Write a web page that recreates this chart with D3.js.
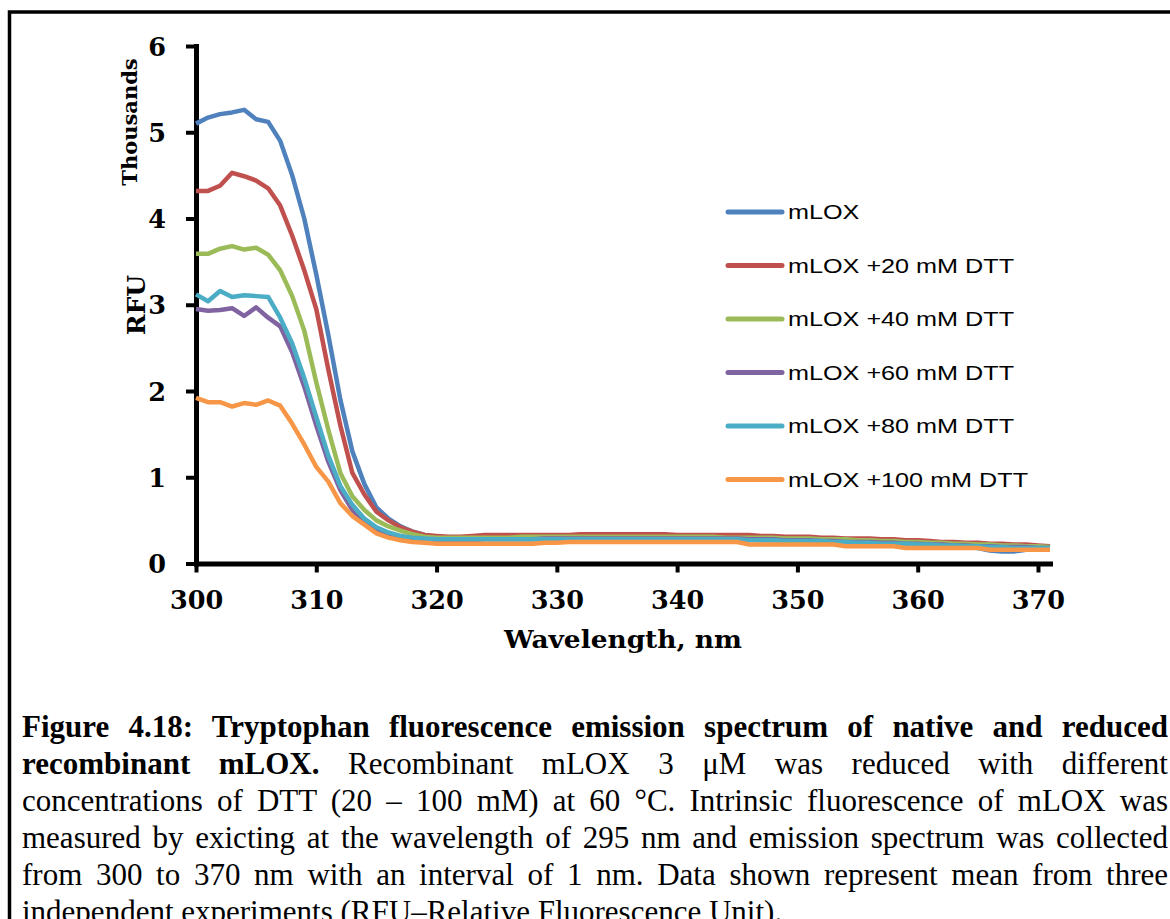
<!DOCTYPE html>
<html>
<head>
<meta charset="utf-8">
<script src="https://cdnjs.cloudflare.com/ajax/libs/d3/7.8.5/d3.min.js"></script>
<style>
body { margin: 0; background: #fff; }
</style>
</head>
<body>
<div id="my_chart"></div>
<script>
// wavelength categories (nm), one reading per nm
var wavelengths = d3.range(300, 372);

var seriesNames = ["mLOX", "mLOX +20 mM DTT", "mLOX +40 mM DTT", "mLOX +60 mM DTT", "mLOX +80 mM DTT", "mLOX +100 mM DTT"];
var seriesColors = ["#4F81BD", "#C0504D", "#9BBB59", "#8064A2", "#4BACC6", "#F79646"];

// RFU values in thousands, 300 -> 371 nm
var mlox = [5.10, 5.17, 5.21, 5.23, 5.26, 5.15, 5.12, 4.90, 4.50, 4.00, 3.35, 2.65, 1.90, 1.30, 0.92, 0.65, 0.52, 0.43, 0.37, 0.33, 0.31,
  0.30, 0.29, 0.29, 0.29, 0.29, 0.29, 0.29, 0.30, 0.30, 0.30,
  0.30, 0.30, 0.30, 0.30, 0.30, 0.30, 0.30, 0.30, 0.30, 0.29,
  0.29, 0.29, 0.29, 0.29, 0.28, 0.28, 0.27, 0.27, 0.27, 0.27,
  0.26, 0.26, 0.25, 0.25, 0.24, 0.24, 0.23, 0.23, 0.22, 0.21,
  0.21, 0.20, 0.20, 0.19, 0.18, 0.15, 0.14, 0.14, 0.16, 0.17,
  0.17];
var dtt20 = [4.32, 4.32, 4.38, 4.53, 4.49, 4.44, 4.35, 4.15, 3.80, 3.40, 2.95, 2.25, 1.60, 1.05, 0.80, 0.60, 0.50, 0.42, 0.37, 0.33, 0.32,
  0.31, 0.31, 0.32, 0.33, 0.33, 0.33, 0.33, 0.33, 0.33, 0.33,
  0.33, 0.34, 0.34, 0.34, 0.34, 0.34, 0.34, 0.34, 0.34, 0.33,
  0.33, 0.33, 0.33, 0.33, 0.33, 0.33, 0.32, 0.32, 0.31, 0.31,
  0.31, 0.30, 0.30, 0.29, 0.29, 0.29, 0.28, 0.28, 0.27, 0.27,
  0.26, 0.25, 0.25, 0.24, 0.24, 0.23, 0.23, 0.22, 0.22, 0.21,
  0.20];
var dtt40 = [3.59, 3.59, 3.65, 3.68, 3.64, 3.66, 3.58, 3.40, 3.10, 2.70, 2.10, 1.55, 1.05, 0.78, 0.62, 0.50, 0.43, 0.38, 0.34, 0.31, 0.30,
  0.30, 0.30, 0.30, 0.30, 0.30, 0.30, 0.31, 0.31, 0.31, 0.31,
  0.31, 0.31, 0.31, 0.31, 0.31, 0.31, 0.31, 0.31, 0.31, 0.31,
  0.31, 0.31, 0.31, 0.30, 0.30, 0.30, 0.30, 0.30, 0.29, 0.29,
  0.29, 0.28, 0.28, 0.28, 0.27, 0.27, 0.26, 0.26, 0.25, 0.25,
  0.24, 0.24, 0.23, 0.23, 0.22, 0.22, 0.21, 0.21, 0.20, 0.20,
  0.19];
var dtt60 = [2.95, 2.93, 2.94, 2.96, 2.87, 2.97, 2.85, 2.75, 2.45, 2.05, 1.60, 1.18, 0.85, 0.62, 0.48, 0.40, 0.34, 0.31, 0.29, 0.28, 0.27,
  0.27, 0.27, 0.27, 0.28, 0.28, 0.28, 0.28, 0.28, 0.29, 0.29,
  0.29, 0.29, 0.29, 0.29, 0.29, 0.29, 0.29, 0.29, 0.29, 0.29,
  0.29, 0.29, 0.29, 0.29, 0.29, 0.28, 0.28, 0.28, 0.27, 0.27,
  0.27, 0.26, 0.26, 0.25, 0.25, 0.25, 0.24, 0.24, 0.23, 0.23,
  0.22, 0.22, 0.21, 0.21, 0.20, 0.20, 0.19, 0.19, 0.19, 0.18,
  0.18];
var dtt80 = [3.12, 3.04, 3.16, 3.09, 3.11, 3.10, 3.09, 2.85, 2.55, 2.15, 1.70, 1.25, 0.90, 0.68, 0.52, 0.42, 0.36, 0.32, 0.30, 0.29, 0.28,
  0.28, 0.28, 0.28, 0.28, 0.28, 0.28, 0.28, 0.28, 0.28, 0.28,
  0.28, 0.28, 0.28, 0.28, 0.28, 0.28, 0.28, 0.28, 0.28, 0.28,
  0.28, 0.28, 0.28, 0.28, 0.28, 0.27, 0.27, 0.27, 0.26, 0.26,
  0.26, 0.26, 0.25, 0.25, 0.24, 0.24, 0.23, 0.23, 0.23, 0.22,
  0.22, 0.21, 0.21, 0.20, 0.20, 0.19, 0.19, 0.18, 0.18, 0.18,
  0.18];
var dtt100 = [1.92, 1.87, 1.87, 1.82, 1.86, 1.84, 1.89, 1.83, 1.62, 1.38, 1.12, 0.95, 0.70, 0.55, 0.45, 0.35, 0.30, 0.27, 0.25, 0.24, 0.23,
  0.23, 0.23, 0.23, 0.23, 0.23, 0.23, 0.23, 0.23, 0.24, 0.24,
  0.25, 0.25, 0.25, 0.25, 0.25, 0.25, 0.25, 0.25, 0.25, 0.25,
  0.25, 0.25, 0.25, 0.25, 0.25, 0.22, 0.22, 0.22, 0.22, 0.22,
  0.22, 0.22, 0.22, 0.20, 0.20, 0.20, 0.20, 0.20, 0.18, 0.18,
  0.18, 0.18, 0.18, 0.18, 0.18, 0.16, 0.16, 0.16, 0.16, 0.16,
  0.16];

var xTicks = [300, 310, 320, 330, 340, 350, 360, 370];
var yTicks = [0, 1, 2, 3, 4, 5, 6];

var captionLines = [
  [{t: "Figure 4.18: Tryptophan fluorescence emission spectrum of native and reduced", b: true}],
  [{t: "recombinant mLOX.", b: true}, {t: " Recombinant mLOX 3 \u03bcM was reduced with different", b: false}],
  [{t: "concentrations of DTT (20 \u2013 100 mM) at 60 \u00b0C. Intrinsic fluorescence of mLOX was", b: false}],
  [{t: "measured by exicting at the wavelength of 295 nm and emission spectrum was collected", b: false}],
  [{t: "from 300 to 370 nm with an interval of 1 nm. Data shown represent mean from three", b: false}],
  [{t: "independent experiments (RFU\u2013Relative Fluorescence Unit).", b: false}]
];

var allValues = [mlox, dtt20, dtt40, dtt60, dtt80, dtt100];
var dataReady = seriesNames.map(function(name, i) {
  return {
    name: name,
    color: seriesColors[i],
    values: wavelengths.map(function(w, j) { return {w: w, v: allValues[i][j]}; })
  };
});

var width = 1170, height = 919;
var svg = d3.select("#my_chart")
  .append("svg")
  .attr("width", width)
  .attr("height", height)
  .style("display", "block");

// page frame (runs off the right and bottom edges)
svg.append("rect")
  .attr("x", 9.5).attr("y", 12)
  .attr("width", 1180).attr("height", 940)
  .attr("fill", "#fff")
  .attr("stroke", "#000")
  .attr("stroke-width", 3.5);

var x = d3.scaleLinear().domain([300, 371]).range([196, 1050]);
var y = d3.scaleLinear().domain([0, 6]).range([563.5, 46]);

var tickFont = "'DejaVu Serif', serif";

// y axis
var gy = svg.append("g")
  .attr("transform", "translate(196,0)")
  .call(d3.axisLeft(y).tickValues(yTicks).tickSize(10).tickSizeOuter(0).tickFormat(d3.format("d")));
gy.select(".domain").attr("stroke-width", 5).attr("stroke-linecap", "square");
gy.selectAll(".tick line").attr("stroke-width", 4);
gy.selectAll(".tick text")
  .attr("x", -30)
  .attr("dy", "0.36em")
  .style("font-family", tickFont)
  .style("font-weight", "bold")
  .style("font-size", "25.5px")
  .attr("fill", "#000");

// x axis
var gx = svg.append("g")
  .attr("transform", "translate(0," + y(0) + ")")
  .call(d3.axisBottom(x).tickValues(xTicks).tickSize(9).tickSizeOuter(0));
gx.select(".domain").attr("stroke-width", 5).attr("stroke-linecap", "square");
gx.selectAll(".tick line").attr("stroke-width", 4);
gx.selectAll(".tick text")
  .attr("y", 45.5)
  .attr("dy", 0)
  .style("font-family", tickFont)
  .style("font-weight", "bold")
  .style("font-size", "25.5px")
  .attr("fill", "#000");

// axis titles
svg.append("text")
  .attr("transform", "translate(137,122) rotate(-90)")
  .attr("text-anchor", "middle")
  .style("font-family", tickFont)
  .style("font-weight", "bold")
  .style("font-size", "21px")
  .text("Thousands");
svg.append("text")
  .attr("transform", "translate(145,305) rotate(-90)")
  .attr("text-anchor", "middle")
  .style("font-family", tickFont)
  .style("font-weight", "bold")
  .style("font-size", "25px")
  .text("RFU");
svg.append("text")
  .attr("transform", "translate(623,648) scale(1.1,1)")
  .attr("text-anchor", "middle")
  .style("font-family", tickFont)
  .style("font-weight", "bold")
  .style("font-size", "24px")
  .text("Wavelength, nm");

// the lines
var line = d3.line()
  .x(function(d) { return x(d.w); })
  .y(function(d) { return y(d.v); });
svg.selectAll("myLines")
  .data(dataReady)
  .enter()
  .append("path")
    .attr("d", function(d) { return line(d.values); })
    .attr("stroke", function(d) { return d.color; })
    .attr("stroke-width", 4.5)
    .attr("stroke-linejoin", "round")
    .attr("fill", "none");

// legend
var legend = svg.selectAll("myLegend")
  .data(dataReady)
  .enter()
  .append("g")
  .attr("transform", function(d, i) { return "translate(728," + (212 + i * 53.5) + ")"; });
legend.append("line")
  .attr("x1", 0).attr("x2", 54)
  .attr("stroke", function(d) { return d.color; })
  .attr("stroke-width", 5)
  .attr("stroke-linecap", "round");
legend.append("text")
  .attr("transform", "translate(60,0) scale(1.2,1)")
  .attr("dy", "0.35em")
  .style("font-family", "'Liberation Sans', Arial, sans-serif")
  .style("font-size", "21px")
  .attr("fill", "#000")
  .text(function(d) { return d.name; });

// caption, justified line by line
var captionLeft = 22, captionRight = 1168;
captionLines.forEach(function(parts, i) {
  var t = svg.append("text")
    .attr("x", captionLeft)
    .attr("y", 737 + i * 37)
    .style("font-family", "'Liberation Serif', 'Times New Roman', serif")
    .style("font-size", "31px")
    .attr("fill", "#000")
    .attr("xml:space", "preserve");
  parts.forEach(function(p) {
    t.append("tspan").style("font-weight", p.b ? "bold" : "normal").text(p.t);
  });
  if (i < captionLines.length - 1) {
    var full = parts.map(function(p) { return p.t; }).join("");
    var spaces = full.split(" ").length - 1;
    var w = t.node().getComputedTextLength();
    t.attr("word-spacing", (captionRight - captionLeft - w) / spaces);
  }
});
</script>
</body>
</html>
